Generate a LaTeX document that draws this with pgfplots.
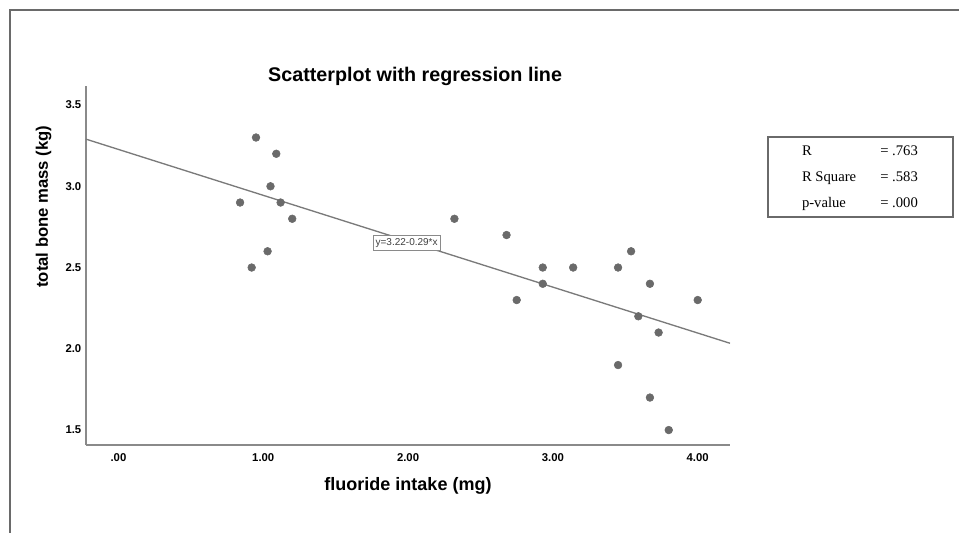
\documentclass[border=0pt]{standalone}
\usepackage{pgfplots}
\pgfplotsset{compat=1.18}
\usepackage{fontspec}
\setmainfont{Liberation Sans}
\newfontfamily\statfont{Liberation Serif}

\definecolor{dotgray}{HTML}{6A6A6A}
\definecolor{linegray}{HTML}{7A7A7A}
\definecolor{axisgray}{HTML}{8A8A8A}
\definecolor{framegray}{HTML}{6A6A6A}

\begin{document}
\begin{tikzpicture}
% page: 959 x 533 px at 0.75pt per px
\useasboundingbox (0,0) rectangle (719.25pt,399.75pt);
\draw[framegray, line width=1pt] (7pt,392.25pt) -- (719.25pt,392.25pt);
\draw[framegray, line width=1pt] (7.5pt,392.75pt) -- (7.5pt,0pt);

\begin{axis}[
at={(64.5pt,66pt)}, anchor=south west,
scale only axis,
width=483pt, height=269.25pt,
xmin=-0.224, xmax=4.223,
ymin=1.408, ymax=3.617,
axis lines*=left,
axis line style={axisgray, line width=1pt},
major tick length=0pt,
xtick={0,1,2,3,4},
xticklabels={.00,1.00,2.00,3.00,4.00},
ytick={1.5,2.0,2.5,3.0,3.5},
yticklabels={1.5,2.0,2.5,3.0,3.5},
/pgf/number format/assume math mode=true,
ticklabel style={font=\bfseries\fontsize{8.5}{10}\selectfont},
xticklabel style={anchor=center, yshift=-9.5pt},
xlabel={fluoride intake (mg)},
ylabel={total bone mass (kg)},
xlabel style={font=\bfseries\fontsize{13.5}{15}\selectfont,
  at={(axis description cs:0.5,-0.114)}, anchor=center},
ylabel style={font=\bfseries\fontsize{12.5}{14}\selectfont,
  at={(axis description cs:-0.066,0.664)}, anchor=center},
clip=false,
]
% regression line
\addplot[linegray, line width=1pt] coordinates {(-0.224,3.29) (4.223,2.034)};

% observations
\addplot[only marks, mark=*, mark size=2.9pt, mark options={fill=dotgray, draw=dotgray}]
coordinates {
(0.84,2.9) (0.95,3.3) (1.09,3.2) (1.05,3.0) (1.12,2.9) (1.20,2.8)
(1.03,2.6) (0.92,2.5) (2.32,2.8) (2.68,2.7) (2.75,2.3) (2.93,2.5)
(2.93,2.4) (3.14,2.5) (3.45,2.5) (3.54,2.6) (3.67,2.4) (3.59,2.2)
(3.73,2.1) (4.00,2.3) (3.45,1.9) (3.67,1.7) (3.80,1.5)
};

\node[draw=axisgray, fill=white, text=black!75, inner xsep=2pt, inner ysep=2.5pt,
      font=\fontsize{7.5}{9}\selectfont] at (axis cs:1.99,2.652) {y=3.22-0.29*x};

\node[anchor=base, yshift=3.75pt, font=\bfseries\fontsize{14.8}{17}\selectfont]
  at (rel axis cs:0.511,1) {Scatterplot with regression line};
\end{axis}

% statistics box
\draw[framegray, line width=0.8pt] (576pt,237pt) rectangle (714.75pt,297pt);
\begin{scope}[every node/.style={anchor=base west, inner sep=0pt, font=\statfont\fontsize{11}{13}\selectfont}]
\node at (601.3pt,283.5pt) {R};
\node at (601.3pt,263.8pt) {R Square};
\node at (601.3pt,244.3pt) {p-value};
\node at (660pt,283.5pt) {= .763};
\node at (660pt,263.8pt) {= .583};
\node at (660pt,244.3pt) {= .000};
\end{scope}
\end{tikzpicture}
\end{document}
